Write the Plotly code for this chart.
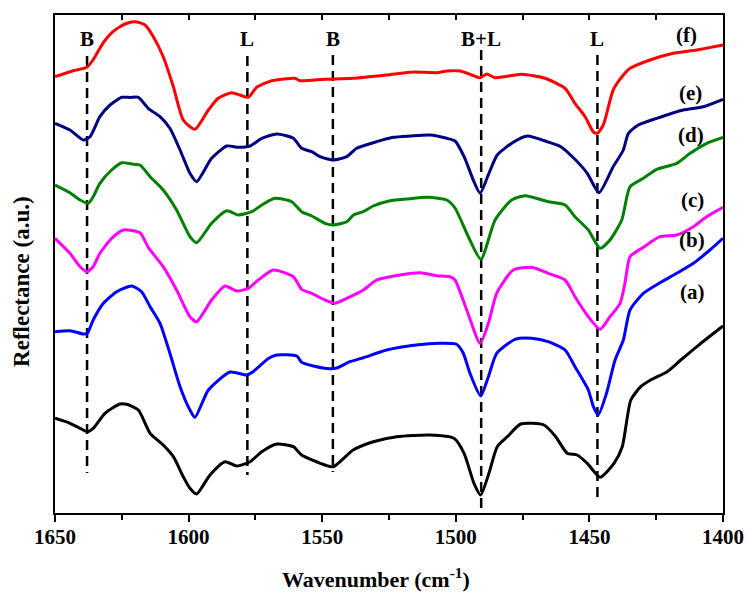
import plotly.graph_objects as go

# ---------------- data (wavenumber in cm-1, reflectance in a.u.) ----------------
wn_f = [1650, 1643.2, 1638.1, 1635.8, 1632.0, 1628.3, 1623.8, 1620.0, 1616.3, 1613.2, 1609.5, 1605.7,
        1602.0, 1597.6, 1592.6, 1588.9, 1583.9, 1580.8, 1577.7, 1574.5, 1568.9, 1560.2, 1558.3, 1549.0,
        1538.5, 1525.9, 1515.9, 1507.1, 1503.4, 1498.4, 1494.0, 1490.9, 1488.4, 1485.3, 1475.3, 1466.6,
        1459.1, 1455.4, 1451.6, 1448.5, 1447.0, 1444.8, 1441.1, 1437.3, 1434.8, 1427.3, 1418.6, 1409.8, 1400]
r_f = [436.3, 442.3, 445.7, 453, 470, 481.3, 489, 491.3, 488, 476.3, 456.3, 426.3,
       393, 383.7, 403, 414.7, 420.3, 418, 415.7, 425.7, 432.3, 434.7, 432.3, 433.7,
       434.7, 438, 441, 440.3, 442, 442, 438, 435.3, 439, 435.3, 438.7, 434.7,
       424.7, 409.7, 396.3, 381, 379.7, 388, 423, 438, 444.7, 453, 459.7, 463, 468]

wn_e = [1650, 1644.4, 1639.4, 1636.9, 1633.2, 1629.4, 1625.0, 1621.9, 1618.8, 1615.1, 1610.7, 1607.0,
        1603.2, 1599.5, 1597.0, 1591.4, 1585.7, 1581.4, 1577.0, 1572.6, 1567.0, 1560.8, 1557.7, 1553.9,
        1550.8, 1545.8, 1540.8, 1537.1, 1530.9, 1523.4, 1517.1, 1509.7, 1503.4, 1500.3, 1496.9, 1493.2,
        1490.9, 1487.6, 1484.5, 1478.2, 1473.2, 1465.8, 1460.7, 1455.8, 1450.8, 1446.4, 1441.1, 1437.3,
        1435.4, 1431.7, 1424.8, 1414.9, 1407.4, 1400]
r_e = [389.7, 383, 373, 376.3, 396.3, 408, 415.7, 415.5, 415.7, 404.7, 396.3, 384.7,
       363, 339.7, 331.3, 354.7, 367, 365.7, 367, 374.7, 379, 374.7, 364.7, 361.3,
       356.3, 353, 356.3, 364.7, 370.3, 375.7, 377, 378, 374.7, 372, 356.3, 331.3,
       319.7, 339.7, 358, 371.3, 377, 371.3, 366.3, 354.7, 339.7, 320.3, 346.3, 363,
       379.7, 388, 394.7, 403, 406.3, 413.7]

wn_d = [1650, 1644.4, 1640.6, 1637.5, 1635.7, 1633.2, 1628.8, 1625.0, 1621.3, 1618.2, 1614.4, 1609.5,
        1604.5, 1599.5, 1597.0, 1591.4, 1585.7, 1581.4, 1576.4, 1572.6, 1567.7, 1561.4, 1557.7, 1553.9,
        1549.0, 1545.8, 1540.8, 1538.3, 1534.6, 1530.9, 1524.6, 1518.4, 1510.3, 1503.4, 1500.3, 1495.3,
        1490.6, 1485.3, 1479.1, 1474.1, 1465.4, 1459.1, 1455.4, 1450.4, 1446.0, 1442.3, 1437.9, 1434.8,
        1429.8, 1424.8, 1417.3, 1412.3, 1406.1, 1400]
r_d = [328, 320.3, 313, 309.7, 316.3, 329.7, 343, 350.3, 349, 348, 336.3, 323,
       303, 276.3, 270.3, 289.7, 302.3, 298, 301.3, 308, 314.7, 311.3, 301.3, 297,
       289.7, 288, 291.3, 298, 301.3, 307, 312.3, 314, 315.7, 313, 305, 276.3,
       253.7, 293, 313, 317.3, 311.3, 308, 296.3, 283, 264.7, 273, 293, 326.3,
       334.7, 343.7, 349.7, 359.7, 369.7, 375.7]

wn_c = [1650, 1644.4, 1640.6, 1638.1, 1635.7, 1633.2, 1628.8, 1624.4, 1618.2, 1615.1, 1609.5, 1604.5,
        1599.5, 1597.0, 1591.4, 1586.4, 1582.0, 1577.7, 1573.9, 1568.3, 1560.8, 1557.7, 1553.9, 1549.0,
        1545.2, 1540.8, 1534.6, 1529.6, 1520.9, 1513.4, 1507.2, 1502.2, 1500.3, 1495.9, 1490.9, 1487.8,
        1484.7, 1478.5, 1471.6, 1465.4, 1459.1, 1455.4, 1450.4, 1446.0, 1442.3, 1438.5, 1436.7, 1434.8,
        1429.8, 1423.6, 1417.3, 1411.1, 1406.1, 1400]
r_c = [274.7, 259.7, 246.3, 241.3, 246.3, 259.7, 274.7, 283, 280.3, 265.7, 246.3, 223,
       196.3, 191.3, 213, 227, 222, 224.7, 233, 243, 236.3, 223.7, 219.7, 213,
       209.7, 214.7, 223, 233, 238, 240.3, 237.3, 236.3, 233, 203, 169.7, 189.7,
       219.7, 243, 245.7, 239.7, 233, 216.3, 196.3, 183.7, 196.3, 209.7, 229.7, 256.3,
       265.7, 276.3, 278, 286.3, 296.3, 305.7]

wn_b = [1650, 1644.4, 1639.4, 1637.9, 1635.7, 1631.9, 1626.9, 1621.3, 1617.6, 1614.4, 1610.7, 1607.0,
        1603.2, 1599.5, 1597.6, 1592.6, 1584.5, 1578.3, 1576.3, 1570.0, 1567.0, 1559.5, 1557.7, 1553.3,
        1547.1, 1544.6, 1539.6, 1534.6, 1525.9, 1517.1, 1505.9, 1499.7, 1497.2, 1494.7, 1490.7, 1487.8,
        1484.7, 1477.8, 1471.6, 1465.4, 1459.1, 1455.4, 1450.4, 1448.5, 1446.7, 1443.6, 1440.4, 1437.3,
        1434.8, 1429.8, 1423.6, 1417.3, 1411.1, 1404.9, 1400]
r_b = [181.3, 182.3, 179, 179.7, 193, 209.7, 221.3, 227, 221.3, 206.3, 189.7, 159.7,
       126.3, 103, 95.7, 123, 141, 138, 140.5, 154.7, 158, 157, 150.7, 147,
       144.3, 145, 151.3, 155.3, 163, 167.3, 169.7, 168.7, 159.7, 139.7, 117, 136.3,
       159.7, 173.7, 174.7, 171.3, 163, 146.3, 123, 106.3, 98, 119.7, 153, 173,
       203, 219.7, 230.3, 239.7, 249.7, 263, 274.7]

wn_a = [1650, 1644.4, 1640.6, 1637.9, 1635.7, 1631.3, 1625.7, 1623.2, 1618.8, 1614.4, 1609.5, 1605.7,
        1602.0, 1599.5, 1597.0, 1592.0, 1586.4, 1582.0, 1577.0, 1572.6, 1567.0, 1560.8, 1557.7, 1549.0,
        1545.8, 1538.4, 1530.9, 1522.1, 1509.7, 1500.7, 1496.9, 1493.2, 1490.7, 1487.6, 1484.5, 1480.7,
        1475.7, 1467.0, 1462.6, 1458.3, 1454.6, 1450.8, 1446.0, 1440.8, 1437.7, 1434.5, 1430.8, 1427.1,
        1420.9, 1415.8, 1408.3, 1400]
r_a = [94.7, 89.7, 84.7, 81.3, 84.7, 99.7, 109, 108.7, 103, 79.7, 68, 56.3,
       36.3, 24.7, 19, 38, 51.3, 47, 51.3, 61.3, 69, 66.3, 58, 48,
       46.3, 63, 71.3, 76.3, 78, 74.7, 59.7, 29.7, 18, 39.7, 66.3, 76.3,
       89, 88, 76.3, 59.7, 58, 49.7, 35.7, 49.7, 66.3, 113, 126.3, 133,
       141.3, 153, 169.7, 187]

series_names = ["(a)", "(b)", "(c)", "(d)", "(e)", "(f)"]
series_wn = [wn_a, wn_b, wn_c, wn_d, wn_e, wn_f]
series_r = [r_a, r_b, r_c, r_d, r_e, r_f]
series_colors = ["#000000", "#0000FF", "#FF00FF", "#008000", "#000080", "#FF0000"]

# band assignments (dashed guide lines)
band_wn = [1638, 1578, 1546, 1490.5, 1447]
band_labels = ["B", "L", "B", "B+L", "L"]
band_top = [457, 457, 458, 463, 458]
band_bottom = [40, 38, 41, 0, 15]

# curve label placement
label_x = [1411.6, 1411.6, 1411.6, 1412.0, 1412.0, 1413.8]
label_y = [221, 273, 313, 378, 420, 478]

x_title = "<b>Wavenumber (cm<sup>-1</sup>)</b>"
y_title = "<b>Reflectance (a.u.)</b>"

FONT = "Liberation Serif"

fig = go.Figure()

for wn, y0, y1 in zip(band_wn, band_top, band_bottom):
    fig.add_trace(go.Scatter(x=[wn, wn], y=[y0, y1], mode="lines",
                             line=dict(color="black", width=2.5, dash="10px,6px"),
                             showlegend=False, hoverinfo="skip"))

for name, wn, r, col in zip(series_names, series_wn, series_r, series_colors):
    fig.add_trace(go.Scatter(x=wn, y=r, mode="lines", name=name,
                             line=dict(color=col, width=3, shape="spline", smoothing=0.6),
                             showlegend=False))

annotations = []
for wn, t in zip(band_wn, band_labels):
    annotations.append(dict(x=wn, y=474, text="<b>%s</b>" % t, showarrow=False,
                            xanchor="center", yanchor="middle",
                            font=dict(family=FONT, size=21, color="black")))
for name, lx, ly in zip(series_names, label_x, label_y):
    annotations.append(dict(x=lx, y=ly, text="<b>%s</b>" % name, showarrow=False,
                            xanchor="center", yanchor="middle",
                            font=dict(family=FONT, size=21, color="black")))
# axis titles
annotations.append(dict(x=0.4805, y=-0.1305, xref="paper", yref="paper", text=x_title,
                        showarrow=False, xanchor="center", yanchor="middle",
                        font=dict(family=FONT, size=22, color="black")))
annotations.append(dict(x=-0.0494, y=0.464, xref="paper", yref="paper", text=y_title,
                        textangle=-90, showarrow=False, xanchor="center", yanchor="middle",
                        font=dict(family=FONT, size=23, color="black")))

fig.update_layout(
    width=748, height=593,
    margin=dict(l=55, r=25, t=15, b=80, autoexpand=False),
    plot_bgcolor="white", paper_bgcolor="white",
    font=dict(family=FONT, color="black"),
    annotations=annotations,
    xaxis=dict(range=[1650, 1400], dtick=50, tick0=1400, automargin=False,
               showline=True, linecolor="black", linewidth=2, mirror=True,
               ticks="outside", ticklen=7, tickwidth=2, tickcolor="black",
               ticklabelstandoff=-3,
               minor=dict(dtick=25, tick0=1400, ticks="outside", ticklen=5, tickwidth=2, tickcolor="black"),
               showgrid=False, zeroline=False,
               tickfont=dict(family=FONT, size=21, color="black"),
               tickprefix="<b>", ticksuffix="</b>"),
    xaxis2=dict(range=[1650, 1400], overlaying="x", side="top", dtick=25, tick0=1400,
                ticks="inside", ticklen=5, tickwidth=2, tickcolor="black", automargin=False,
                showticklabels=False, showgrid=False, zeroline=False, showline=False),
    yaxis=dict(range=[0, 498], showline=True, linecolor="black", linewidth=2, mirror=True,
               automargin=False,
               ticks="", showticklabels=False, showgrid=False, zeroline=False),
)
# invisible trace to activate top tick axis
fig.add_trace(go.Scatter(x=[1650], y=[0], xaxis="x2", mode="markers",
                         marker=dict(opacity=0), showlegend=False, hoverinfo="skip"))

fig.write_html("out.html", config={"displayModeBar": False},
               post_script="document.body.style.margin='0';")
